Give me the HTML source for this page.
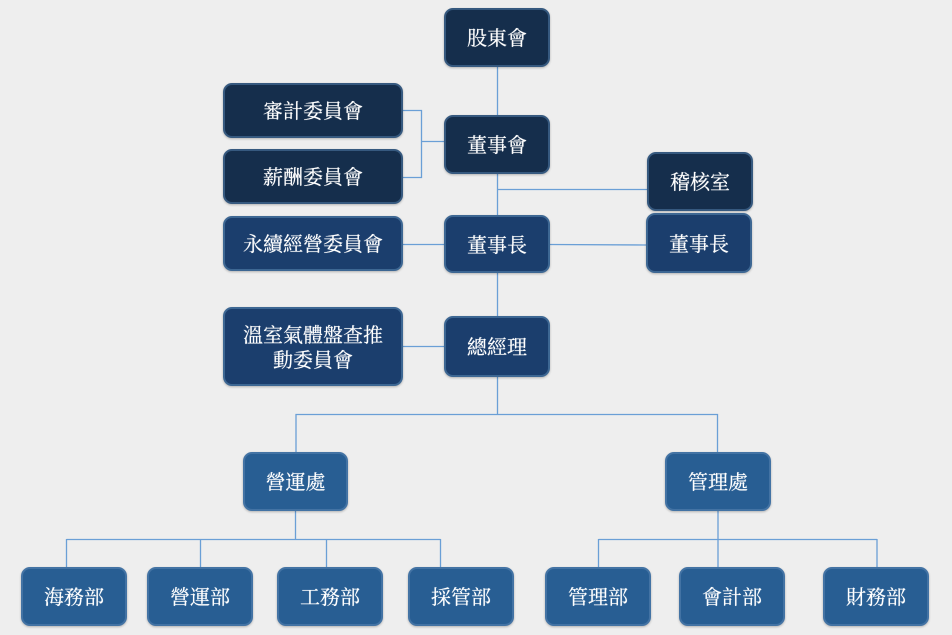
<!DOCTYPE html>
<html><head><meta charset="utf-8">
<style>
html,body{margin:0;padding:0;background:#eeeeee;}
body{width:952px;height:635px;position:relative;overflow:hidden;}
svg{position:absolute;left:0;top:0;}
.b{position:absolute;box-sizing:border-box;border-radius:9px;color:#fff;display:flex;align-items:center;justify-content:center;text-align:center;font-family:"Liberation Serif","Noto Serif CJK SC",serif;font-size:20px;line-height:25px;padding-top:4px;text-shadow:0 0 0.6px #fff;box-shadow:0 1px 2px rgba(0,0,0,0.25);}
.d{background:#152e4c;border:2px solid #36597f;}
.m{background:#1b3e6d;border:2px solid #3d6793;}
.l{background:#285e93;border:2px solid #4373a4;}
</style></head><body>
<svg width="952" height="635" viewBox="0 0 952 635">
<g stroke="#6a9fd6" stroke-width="1.3" fill="none">
<line x1="497.5" y1="67" x2="497.5" y2="116"/>
<polyline points="403,110.5 421.5,110.5 421.5,177.5 403,177.5"/>
<line x1="421.5" y1="141.5" x2="444" y2="141.5"/>
<line x1="497.5" y1="174" x2="497.5" y2="216"/>
<line x1="497.5" y1="189.5" x2="647" y2="189.5"/>
<line x1="403" y1="244.5" x2="444" y2="244.5"/>
<line x1="550" y1="244.5" x2="646" y2="245"/>
<line x1="497.5" y1="273" x2="497.5" y2="317"/>
<line x1="403" y1="346.5" x2="444" y2="346.5"/>
<line x1="497.5" y1="377" x2="497.5" y2="414.5"/>
<polyline points="296,453 296,414.5 717.5,414.5 717.5,453"/>
<line x1="295.5" y1="511" x2="295.5" y2="539"/>
<line x1="66.5" y1="539.5" x2="440.5" y2="539.5"/>
<line x1="66.5" y1="539" x2="66.5" y2="568"/>
<line x1="200.5" y1="539" x2="200.5" y2="568"/>
<line x1="326.5" y1="539" x2="326.5" y2="568"/>
<line x1="440.5" y1="539" x2="440.5" y2="568"/>
<line x1="718" y1="511" x2="718" y2="539"/>
<line x1="598.5" y1="539.5" x2="877" y2="539.5"/>
<line x1="598.5" y1="539" x2="598.5" y2="568"/>
<line x1="718" y1="539" x2="718" y2="568"/>
<line x1="877" y1="539" x2="877" y2="568"/>
</g>
</svg>

<div class="b d" style="left:444px;top:8px;width:106px;height:59px;">股東會</div>
<div class="b d" style="left:223px;top:83px;width:180px;height:55px;">審計委員會</div>
<div class="b d" style="left:444px;top:115px;width:106px;height:59px;">董事會</div>
<div class="b d" style="left:223px;top:149px;width:180px;height:55px;">薪酬委員會</div>
<div class="b d" style="left:647px;top:152px;width:106px;height:59px;">稽核室</div>
<div class="b m" style="left:223px;top:216px;width:180px;height:55px;">永續經營委員會</div>
<div class="b m" style="left:444px;top:215px;width:106px;height:58px;">董事長</div>
<div class="b m" style="left:646px;top:213px;width:106px;height:60px;">董事長</div>
<div class="b m" style="left:223px;top:307px;width:180px;height:79px;">溫室氣體盤查推<br>動委員會</div>
<div class="b m" style="left:444px;top:316px;width:106px;height:61px;">總經理</div>
<div class="b l" style="left:243px;top:452px;width:105px;height:59px;">營運處</div>
<div class="b l" style="left:665px;top:452px;width:106px;height:59px;">管理處</div>
<div class="b l" style="left:21px;top:567px;width:106px;height:59px;">海務部</div>
<div class="b l" style="left:147px;top:567px;width:106px;height:59px;">營運部</div>
<div class="b l" style="left:277px;top:567px;width:106px;height:59px;">工務部</div>
<div class="b l" style="left:408px;top:567px;width:106px;height:59px;">採管部</div>
<div class="b l" style="left:545px;top:567px;width:106px;height:59px;">管理部</div>
<div class="b l" style="left:679px;top:567px;width:106px;height:59px;">會計部</div>
<div class="b l" style="left:823px;top:567px;width:106px;height:59px;">財務部</div>
</body></html>
